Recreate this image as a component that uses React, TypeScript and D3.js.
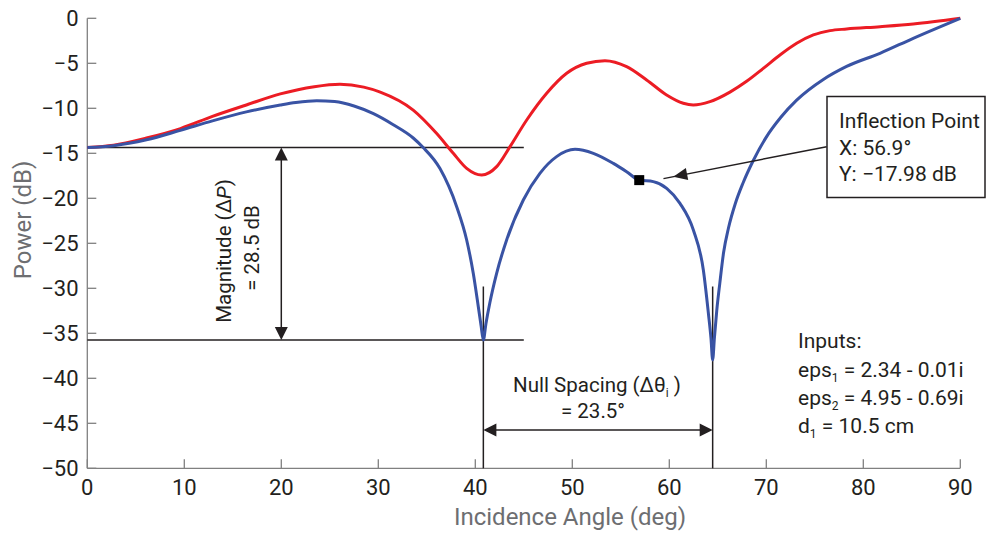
import React from "react";
import * as d3 from "d3";

// ---- data ----
const xTicks = [0, 10, 20, 30, 40, 50, 60, 70, 80, 90];
const yTicks = [0, -5, -10, -15, -20, -25, -30, -35, -40, -45, -50];

const redX = [0, 2.7, 6.1, 9.6, 12.9, 16.4, 19.9, 23.4, 26.05, 28.5, 30.2, 33.6, 36.0, 37.73, 39.11, 40.66, 42.2, 43.58, 45.3, 47.36, 49.42, 51.48, 53.37, 55.6, 57.66, 59.72, 61.44, 62.47, 64.19, 66.25, 67.97, 69.69, 71.41, 73.13, 74.85, 76.57, 78.28, 81.72, 85.15, 90];
const redY = [-14.35, -14.1, -13.3, -12.25, -10.9, -9.63, -8.4, -7.6, -7.33, -7.65, -8.2, -10.2, -12.78, -15.0, -16.67, -17.41, -16.48, -14.26, -11.3, -8.33, -6.11, -5.0, -4.71, -5.37, -6.85, -8.52, -9.44, -9.63, -9.26, -8.2, -7.0, -5.56, -4.08, -2.78, -1.85, -1.37, -1.19, -0.93, -0.63, 0];

const blueX = [0, 2.7, 6.1, 9.6, 12.9, 16.4, 19.9, 21.5, 23.65, 25.5, 27.5, 29.5, 31.5, 33.6, 34.6, 36.36, 38.08, 39.11, 39.79, 40.31, 40.6, 40.83, 41.1, 41.5, 42.2, 43.23, 44.95, 46.66, 48.38, 50.28, 52.17, 54.23, 55.6, 56.88, 58.35, 59.73, 61.1, 62.48, 63.51, 64.03, 64.3, 64.47, 64.65, 64.89, 65.2, 65.6, 66.1, 66.8, 67.6, 68.66, 70.0, 71.5, 73.13, 75.88, 78.28, 81.72, 85.15, 90];
const blueY = [-14.35, -14.15, -13.5, -12.45, -11.4, -10.4, -9.63, -9.35, -9.15, -9.25, -9.75, -10.6, -11.8, -13.3, -14.33, -16.7, -20.93, -24.63, -28.33, -32.04, -34.2, -35.74, -33.9, -31.6, -28.33, -24.63, -20.19, -17.23, -15.37, -14.56, -15.0, -16.12, -17.04, -17.97, -18.15, -18.89, -20.56, -23.52, -27.97, -32.78, -35.6, -37.96, -35.5, -32.5, -29.5, -26.0, -23.3, -20.6, -18.3, -15.8, -13.2, -11.0, -9.1, -6.8, -5.35, -3.89, -2.22, 0];

const inflection = { x: 56.9, y: -17.98 };
const nullLevel = -35.74;
const refLevel = -14.35;
const nulls = [40.83, 64.47];

const RED = "#ec1c24";
const BLUE = "#3953a4";
const INK = "#231f20";
const GRAY = "#808080";
const FONT = "Roboto, 'Open Sans', sans-serif";

export default function App() {
  const W = 987, H = 533;
  const x = d3.scaleLinear().domain([0, 90]).range([87.3, 960.3]);
  const y = d3.scaleLinear().domain([-50, 0]).range([468.3, 18.3]);

  const line = d3
    .line<[number, number]>()
    .x((d) => x(d[0]))
    .y((d) => y(d[1]))
    .curve(d3.curveMonotoneX);

  const redPts = redX.map((v, i) => [v, redY[i]] as [number, number]);
  const bluePts = blueX.map((v, i) => [v, blueY[i]] as [number, number]);

  const tri = (tx: number, ty: number, angle: number, len = 13, wid = 13) => {
    const bx = tx - len * Math.cos(angle);
    const by = ty - len * Math.sin(angle);
    const px = -Math.sin(angle) * (wid / 2);
    const py = Math.cos(angle) * (wid / 2);
    return `M${tx},${ty}L${bx + px},${by + py}L${bx - px},${by - py}Z`;
  };

  const x0 = x(0), yb = y(-50);
  const arrowX = x(20);
  const yTop = y(refLevel), yBot = y(nullLevel);
  const hy = y(-45.74);
  const n1 = x(nulls[0]), n2 = x(nulls[1]);

  const aFrom = { x: 826.7, y: 146.7 };
  const aTip = { x: 673.3, y: 176.7 };
  const aAng = Math.atan2(aTip.y - aFrom.y, aTip.x - aFrom.x);

  return (
    <svg
      width={W}
      height={H}
      style={{ position: "absolute", left: 0, top: 0, background: "#fff" }}
      fontFamily={FONT}
    >
      <rect width={W} height={H} fill="#fff" />
      {/* axes */}
      <line x1={x0} y1={y(0)} x2={x0} y2={yb} stroke={GRAY} strokeWidth={1.3} />
      <line x1={x0} y1={yb} x2={x(90)} y2={yb} stroke={GRAY} strokeWidth={1.3} />
      {yTicks.map((t) => (
        <g key={"y" + t}>
          <line x1={x0} x2={x0 + 9} y1={y(t)} y2={y(t)} stroke={GRAY} strokeWidth={1.3} />
          <text x={78.5} y={y(t)} dy="0.36em" textAnchor="end" fontSize={22} fill={INK}>
            {t === 0 ? "0" : "\u2212" + Math.abs(t)}
          </text>
        </g>
      ))}
      {xTicks.map((t) => (
        <g key={"x" + t}>
          <line x1={x(t)} x2={x(t)} y1={yb} y2={yb - 9} stroke={GRAY} strokeWidth={1.3} />
          <text x={x(t)} y={495} textAnchor="middle" fontSize={22} fill={INK}>
            {t}
          </text>
        </g>
      ))}
      <text x={570} y={525} textAnchor="middle" fontSize={24} fill="#6d6e71">
        Incidence Angle (deg)
      </text>
      <text transform="translate(31,220) rotate(-90)" textAnchor="middle" fontSize={24} fill="#6d6e71">
        Power (dB)
      </text>

      {/* reference lines */}
      <line x1={x0} x2={x(45)} y1={yTop} y2={yTop} stroke={INK} strokeWidth={1.5} />
      <line x1={x0} x2={x(45)} y1={yBot} y2={yBot} stroke={INK} strokeWidth={1.5} />
      {nulls.map((n) => (
        <line key={n} x1={x(n)} x2={x(n)} y1={y(-29.8)} y2={yb} stroke={INK} strokeWidth={1.5} />
      ))}

      {/* curves */}
      <path d={line(redPts) || ""} fill="none" stroke={RED} strokeWidth={3} />
      <path d={line(bluePts) || ""} fill="none" stroke={BLUE} strokeWidth={3} />

      {/* magnitude arrow */}
      <line x1={arrowX} x2={arrowX} y1={yTop + 10} y2={yBot - 10} stroke={INK} strokeWidth={1.5} />
      <path d={tri(arrowX, yTop, -Math.PI / 2)} fill={INK} />
      <path d={tri(arrowX, yBot, Math.PI / 2)} fill={INK} />
      <text transform="translate(231,251) rotate(-90)" textAnchor="middle" fontSize={20.5} fill={INK}>
        Magnitude (Δ<tspan fontStyle="italic">P</tspan>)
      </text>
      <text transform="translate(259,248) rotate(-90)" textAnchor="middle" fontSize={20.5} fill={INK}>
        = 28.5 dB
      </text>

      {/* null spacing arrow */}
      <line x1={n1 + 10} x2={n2 - 10} y1={hy} y2={hy} stroke={INK} strokeWidth={1.5} />
      <path d={tri(n1, hy, Math.PI)} fill={INK} />
      <path d={tri(n2, hy, 0)} fill={INK} />
      <text x={597} y={391.7} textAnchor="middle" fontSize={20.5} fill={INK}>
        Null Spacing (Δθ<tspan dy={5} fontSize={12}>i</tspan>
        <tspan dy={-5}> )</tspan>
      </text>
      <text x={593} y={418.3} textAnchor="middle" fontSize={20.5} fill={INK}>
        = 23.5°
      </text>

      {/* inflection marker */}
      <rect x={x(inflection.x) - 5} y={y(inflection.y) - 5} width={10} height={10} fill="#000" />
      <line x1={aFrom.x} y1={aFrom.y} x2={aTip.x + 10 * Math.cos(aAng)} y2={aTip.y + 10 * Math.sin(aAng)} stroke={INK} strokeWidth={1.5} />
      <path d={tri(aTip.x, aTip.y, aAng, 14, 12)} fill={INK} />
      <rect x={827} y={96.5} width={158} height={101} fill="#fff" stroke={INK} strokeWidth={1.5} />
      <text x={839} y={128.3} fontSize={21} fill={INK}>Inflection Point</text>
      <text x={839} y={155} fontSize={21} fill={INK}>X: 56.9°</text>
      <text x={839} y={180.7} fontSize={21} fill={INK}>Y: {"\u2212"}17.98 dB</text>

      {/* inputs */}
      <text x={798} y={348.3} fontSize={21} fill={INK}>Inputs:</text>
      <text x={798} y={376.7} fontSize={21} fill={INK}>
        eps<tspan dy={5} fontSize={12}>1</tspan>
        <tspan dy={-5}> = 2.34 - 0.01i</tspan>
      </text>
      <text x={798} y={405} fontSize={21} fill={INK}>
        eps<tspan dy={5} fontSize={12}>2</tspan>
        <tspan dy={-5}> = 4.95 - 0.69i</tspan>
      </text>
      <text x={798} y={433.3} fontSize={21} fill={INK}>
        d<tspan dy={5} fontSize={12}>1</tspan>
        <tspan dy={-5}> = 10.5 cm</tspan>
      </text>
    </svg>
  );
}
